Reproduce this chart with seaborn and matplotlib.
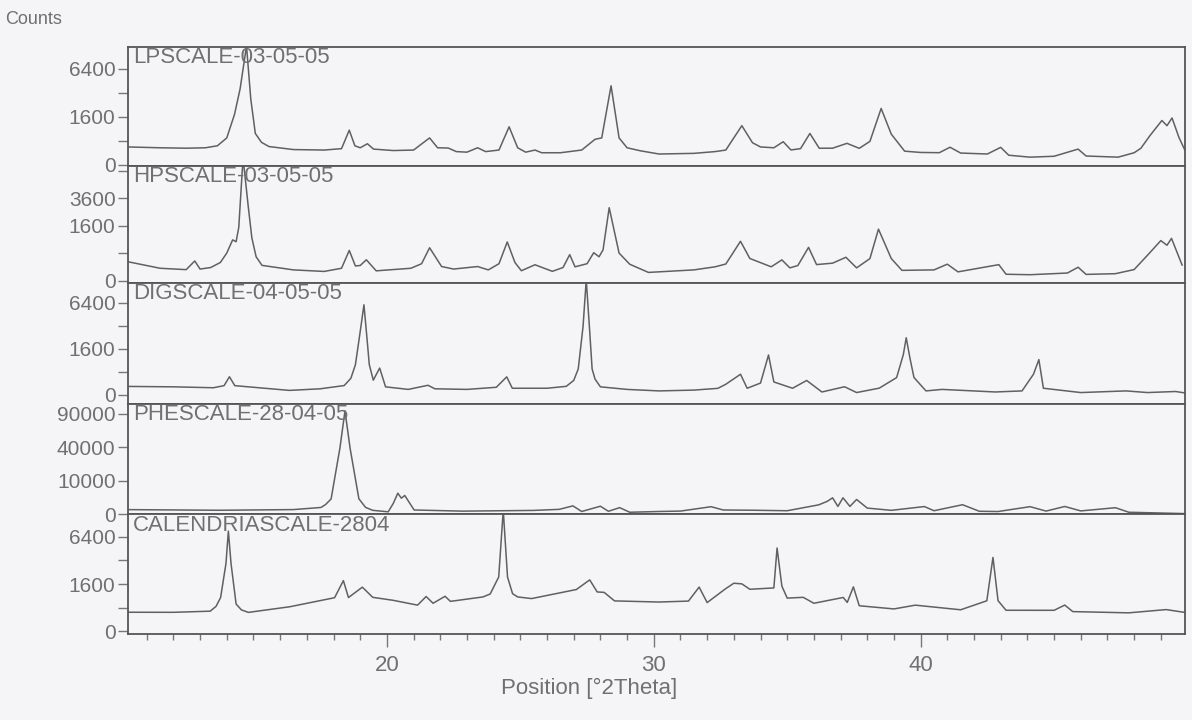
import numpy as np
import matplotlib
matplotlib.use("Agg")
import matplotlib.pyplot as plt
import seaborn as sns

# ---- data (2theta in degrees, counts) ----
names = ["LPSCALE-03-05-05", "HPSCALE-03-05-05", "DIGSCALE-04-05-05",
         "PHESCALE-28-04-05", "CALENDRIASCALE-2804"]

lp_theta = [10.3, 11.5, 12.5, 13.2, 13.65, 14.0, 14.29, 14.5, 14.74, 14.9, 15.07, 15.3, 15.58,
            16.5, 17.65, 18.3, 18.59, 18.8, 19.0, 19.27, 19.5, 20.24, 21.0, 21.6, 21.9, 22.3,
            22.6, 23.0, 23.4, 23.7, 24.2, 24.58, 24.9, 25.2, 25.55, 25.8, 26.5, 27.3, 27.8,
            28.05, 28.4, 28.7, 29.0, 29.5, 30.2, 31.5, 32.3, 32.7, 33.3, 33.7, 34.0, 34.5,
            34.85, 35.14, 35.5, 35.85, 36.2, 36.7, 37.24, 37.7, 38.1, 38.52, 38.9, 39.4, 40.0,
            40.7, 41.1, 41.5, 42.5, 43.0, 43.3, 44.1, 45.0, 45.9, 46.2, 47.4, 48.0, 48.25,
            48.6, 49.04, 49.23, 49.42, 49.68, 49.9]
lp_counts = [220, 200, 190, 200, 250, 500, 1760, 4000, 9800, 3000, 680, 350, 230,
             160, 150, 180, 830, 250, 200, 306, 170, 140, 150, 500, 200, 194,
             120, 110, 200, 120, 150, 1000, 200, 110, 150, 100, 100, 150, 450,
             500, 4330, 500, 200, 135, 80, 90, 120, 150, 1060, 336, 220, 200,
             368, 152, 180, 680, 189, 190, 318, 187, 380, 2200, 650, 128, 105,
             101, 213, 95, 80, 210, 63, 40, 50, 170, 53, 40, 100, 187,
             600, 1360, 1060, 1520, 515, 150]

hp_theta = [10.3, 11.5, 12.48, 12.8, 13.0, 13.4, 13.76, 14.0, 14.22, 14.35, 14.45, 14.61, 14.8,
            14.94, 15.1, 15.32, 16.5, 17.65, 18.3, 18.59, 18.82, 19.0, 19.23, 19.6, 20.9,
            21.3, 21.6, 22.05, 22.5, 23.4, 23.8, 24.2, 24.51, 24.8, 25.04, 25.55, 26.2,
            26.6, 26.85, 27.05, 27.5, 27.75, 27.95, 28.1, 28.33, 28.7, 29.1, 29.8, 31.5,
            32.3, 32.7, 33.25, 33.6, 34.4, 34.8, 35.1, 35.4, 35.8, 36.1, 36.7, 37.2, 37.6,
            38.1, 38.42, 38.9, 39.3, 40.5, 41.0, 41.4, 42.93, 43.2, 44.1, 45.5, 45.9, 46.2,
            47.3, 48.0, 48.5, 49.0, 49.23, 49.4, 49.8]
hp_counts = [187, 80, 63, 203, 70, 90, 173, 400, 876, 800, 1500, 8000, 3000,
             965, 300, 122, 60, 44, 80, 480, 113, 120, 228, 50, 80,
             150, 570, 104, 70, 104, 60, 150, 790, 171, 51, 132, 45,
             90, 355, 100, 150, 410, 300, 500, 2810, 400, 141, 35, 60,
             100, 145, 817, 258, 100, 226, 85, 120, 583, 135, 160, 287, 85,
             256, 1400, 256, 55, 60, 142, 40, 134, 21, 18, 30, 94, 20,
             25, 64, 339, 846, 660, 942, 124]

dig_theta = [10.3, 12.0, 13.5, 13.9, 14.1, 14.3, 15.0, 16.35, 17.5, 18.4, 18.65, 18.82, 19.0,
             19.14, 19.25, 19.34, 19.49, 19.73, 19.95, 20.8, 21.54, 21.8, 23.0, 24.1, 24.49,
             24.7, 26.0, 26.72, 27.0, 27.17, 27.35, 27.47, 27.6, 27.69, 27.8, 28.0, 29.0,
             30.2, 31.5, 32.4, 32.7, 33.25, 33.5, 34.0, 34.3, 34.5, 35.2, 35.73, 36.3, 37.15,
             37.6, 38.45, 39.1, 39.35, 39.46, 39.6, 39.75, 40.2, 40.8, 42.8, 43.8, 44.23,
             44.43, 44.6, 46.0, 47.7, 48.5, 49.55, 49.9]
dig_counts = [50, 45, 35, 60, 240, 60, 40, 13, 25, 61, 200, 670, 3000,
              6100, 2500, 680, 157, 530, 45, 20, 65, 25, 20, 40, 237,
              30, 30, 51, 150, 495, 3500, 10000, 3000, 495, 180, 45, 20,
              10, 15, 29, 80, 312, 30, 100, 1185, 120, 30, 150, 5, 46,
              3, 31, 218, 1200, 2440, 1000, 220, 10, 20, 5, 10, 315,
              925, 30, 3, 10, 3, 7, 2]

phe_theta = [10.3, 13.77, 16.5, 17.53, 17.7, 17.91, 18.24, 18.43, 18.62, 18.95, 19.2, 19.47,
             20.05, 20.24, 20.41, 20.54, 20.67, 21.02, 22.83, 25.5, 26.46, 26.97, 27.3, 28.0,
             28.3, 28.72, 29.1, 30.2, 31.0, 32.15, 32.6, 33.8, 35.0, 36.18, 36.5, 36.7, 36.9,
             37.09, 37.35, 37.6, 38.0, 38.9, 40.14, 40.5, 41.57, 42.2, 42.9, 44.1, 44.7,
             45.4, 46.0, 47.3, 47.8, 49.9]
phe_counts = [177, 130, 180, 390, 800, 2050, 38800, 95000, 38800, 2090, 400, 125,
              46, 1020, 3900, 2250, 3080, 150, 77, 120, 200, 600, 60, 550,
              70, 370, 30, 60, 80, 485, 150, 130, 100, 760, 1440, 2350, 520,
              2360, 525, 1900, 320, 125, 505, 100, 780, 70, 58, 490, 80,
              515, 90, 361, 30, 2]

cal_theta = [10.3, 12.0, 13.38, 13.6, 13.77, 13.97, 14.06, 14.16, 14.35, 14.55, 14.81, 16.36,
             18.04, 18.37, 18.56, 19.08, 19.47, 20.24, 21.15, 21.47, 21.73, 22.18, 22.38,
             23.6, 23.87, 24.19, 24.36, 24.52, 24.71, 24.9, 25.42, 27.1, 27.6, 27.88, 28.14,
             28.53, 30.19, 31.3, 31.7, 32.0, 32.7, 33.0, 33.3, 33.6, 34.5, 34.62, 34.8, 35.0,
             35.6, 36.0, 37.1, 37.25, 37.48, 37.7, 39.0, 39.8, 41.5, 42.48, 42.71, 42.9,
             43.2, 45.0, 45.4, 45.7, 47.8, 49.2, 49.9]
cal_counts = [262, 260, 292, 450, 824, 3300, 7200, 3300, 535, 330, 258, 434,
              812, 1845, 820, 1400, 830, 690, 493, 870, 566, 882, 645,
              850, 1000, 2120, 10500, 2120, 1015, 850, 770, 1255, 1900, 1113, 1090,
              665, 617, 657, 1405, 594, 1313, 1660, 1617, 1270, 1352, 4980, 1470, 793,
              830, 566, 824, 600, 1420, 470, 361, 492, 334, 670, 3920, 676,
              319, 318, 495, 280, 246, 340, 257]

all_theta = [lp_theta, hp_theta, dig_theta, phe_theta, cal_theta]
all_counts = [lp_counts, hp_counts, dig_counts, phe_counts, cal_counts]

# y axis ticks per panel (square-root count scale)
major_ticks = [[0, 1600, 6400], [0, 1600, 3600], [0, 1600, 6400],
               [0, 10000, 40000, 90000], [0, 1600, 6400]]
minor_ticks = [[400, 3600], [400, 6400], [400, 3600], [], [400, 3600]]
# panel limits in sqrt(counts)
sqrt_lims = [(-0.8, 98.3), (-1.5, 83.6), (-7.8, 97.4), (-1.0, 330.0), (-2.5, 99.0)]
panel_px = [119, 117, 121, 111, 120]

bg = "#f5f5f8"
ink = "#555555"
txt = "#707070"

sns.set_theme(style="white")
plt.rcParams['font.family'] = ['Liberation Sans', 'DejaVu Sans']


def fwd(y):
    y = np.asarray(y, dtype=float)
    return np.sign(y) * np.sqrt(np.abs(y))


def inv(s):
    s = np.asarray(s, dtype=float)
    return np.sign(s) * s ** 2


fig = plt.figure(figsize=(11.92, 7.2), dpi=100, facecolor=bg)
gs = fig.add_gridspec(5, 1, height_ratios=panel_px, hspace=0,
                      left=0.1074, right=0.994, top=0.935, bottom=0.119)

axes = []
for i in range(5):
    ax = fig.add_subplot(gs[i], sharex=axes[0] if axes else None)
    ax.set_facecolor(bg)
    sns.lineplot(x=all_theta[i], y=all_counts[i], ax=ax, color="#606060",
                 linewidth=1.1, sort=False)
    ax.set_yscale('function', functions=(fwd, inv))
    lo, hi = sqrt_lims[i]
    ax.set_ylim(np.sign(lo) * lo ** 2, hi ** 2)
    ax.set_yticks(major_ticks[i])
    ax.set_yticklabels([str(t) for t in major_ticks[i]])
    ax.set_yticks(minor_ticks[i], minor=True)
    ax.tick_params(axis='y', which='both', left=True, direction='out', length=7,
                   width=1, color="#777777", labelsize=15, labelcolor=txt, pad=2)
    for sp in ax.spines.values():
        sp.set_color(ink)
        sp.set_linewidth(1.3)
    ax.text(0.005, 0.995, names[i], transform=ax.transAxes, ha='left', va='top',
            fontsize=16, color=txt)
    if i < 4:
        ax.tick_params(axis='x', which='both', bottom=False, labelbottom=False)
    ax.set_ylabel("")
    axes.append(ax)

ax = axes[-1]
ax.set_xlim(10.3, 49.9)
ax.set_xticks([20, 30, 40])
ax.set_xticks(np.arange(11, 50, 1), minor=True)
ax.tick_params(axis='x', which='major', bottom=True, direction='out', length=9,
               width=1, color="#777777", labelsize=16, labelcolor=txt, pad=6)
ax.tick_params(axis='x', which='minor', bottom=True, direction='out', length=4,
               width=1, color="#777777")
ax.set_xlabel("Position [°2Theta]", fontsize=16, color=txt)
ax.xaxis.set_label_coords(0.436, -0.36)

fig.text(5 / 1192, 1 - 20 / 720, "Counts", ha='left', va='center', fontsize=13, color=txt)

plt.savefig("out.png", dpi=100, facecolor=bg)
